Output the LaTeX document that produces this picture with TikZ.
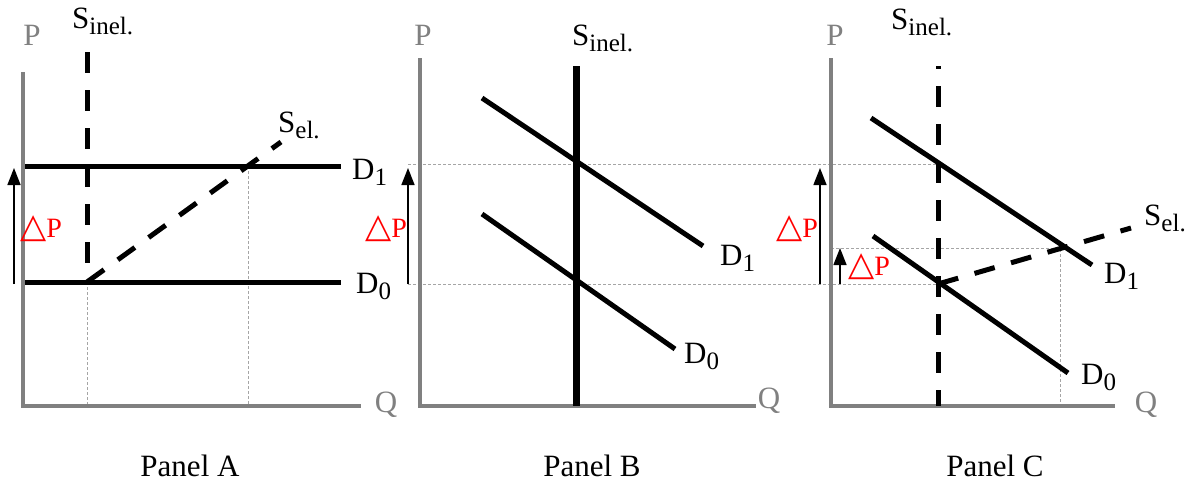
\documentclass[tikz,border=0pt]{standalone}
\usepackage{fontspec}
\setmainfont{Liberation Serif}
\newfontfamily\shapefont{DejaVu Sans}
\usetikzlibrary{arrows.meta}
\definecolor{axisgray}{RGB}{128,128,128}
\definecolor{guidegray}{RGB}{165,165,165}
\newcommand{\lowsub}[1]{\raisebox{-6pt}{\fontsize{25}{25}\selectfont #1}}
\newcommand{\dP}{{\shapefont\fontsize{34}{34}\selectfont △}P}

\begin{document}
\begin{tikzpicture}[x=1pt,y=-1pt,
    font=\fontsize{31}{34}\selectfont,
    axis/.style={draw=axisgray,line width=4pt},
    axislabel/.style={text=axisgray,inner sep=0pt},
    curve/.style={line width=5pt},
    dashcurve/.style={line width=5pt,dash pattern=on 21pt off 17pt},
    guide/.style={draw=guidegray,line width=0.6pt,dash pattern=on 3pt off 2pt},
    shiftarrow/.style={line width=1.5pt,-{Triangle[length=17pt,width=13pt]}},
    change/.style={text=red,font=\fontsize{28}{30}\selectfont,inner sep=0pt},
    tag/.style={anchor=base west,inner sep=0pt}]
    \useasboundingbox (0,0) rectangle (1185,482);

    % Panel A: horizontal demand, two supply curves
    \coordinate (a-top) at (23,72);
    \coordinate (a-o) at (23,406);
    \coordinate (a-end) at (361,406);
    \coordinate (a-d1l) at (25,166);
    \coordinate (a-d1r) at (341,166);
    \coordinate (a-d0l) at (25,282);
    \coordinate (a-d0r) at (341,282);
    \coordinate (a-stop) at (87,52);
    \coordinate (a-eq0) at (87,282);
    \coordinate (a-eq1) at (248,166);
    \coordinate (a-eltop) at (281,142);
    \coordinate (a-q0) at (87,406);
    \coordinate (a-q1) at (248,406);
    \coordinate (a-arl) at (14,284);
    \coordinate (a-arh) at (14,168);
    \draw[guide] (a-eq0) -- (a-q0);
    \draw[guide] (a-eq1) -- (a-q1);
    \draw[axis] (a-top) -- (a-o) -- (a-end);
    \draw[curve] (a-d1l) -- (a-d1r);
    \draw[curve] (a-d0l) -- (a-d0r);
    \draw[dashcurve] (a-stop) -- (a-eq0);
    \draw[dashcurve] (a-eq0) -- (a-eltop);
    \draw[shiftarrow] (a-arl) -- (a-arh);
    \node[axislabel] (a-p) at (32,35) {P};
    \node[axislabel] (a-q) at (386,405) {Q};
    \node[tag] (a-sinel) at (72,28) {S\lowsub{inel.}};
    \node[tag] (a-sel) at (278,132) {S\lowsub{el.}};
    \node[tag] (a-d1) at (352,179) {D\lowsub{1}};
    \node[tag] (a-d0) at (356,293) {D\lowsub{0}};
    \node[change] (a-dp) at (41,229) {\dP};
    \node[anchor=base] (a-name) at (190,476) {Panel A};

    % Panel B: vertical supply, demand shifts
    \coordinate (b-top) at (420,58);
    \coordinate (b-o) at (420,406);
    \coordinate (b-end) at (756,406);
    \coordinate (b-stop) at (576,66);
    \coordinate (b-sbot) at (576,406);
    \coordinate (b-d1l) at (482,98);
    \coordinate (b-d1r) at (703,246);
    \coordinate (b-d0l) at (482,214);
    \coordinate (b-d0r) at (675,349);
    \coordinate (b-hi) at (408,164);
    \coordinate (b-lo) at (408,284);
    \coordinate (c-hi) at (938,164);
    \coordinate (c-lo) at (938,284);
    \coordinate (b-arh) at (408,168);
    \draw[guide] (b-hi) -- (c-hi);
    \draw[guide] (b-lo) -- (c-lo);
    \draw[axis] (b-top) -- (b-o) -- (b-end);
    \draw[line width=7pt] (b-stop) -- (b-sbot);
    \draw[curve] (b-d1l) -- (b-d1r);
    \draw[curve] (b-d0l) -- (b-d0r);
    \draw[shiftarrow] (b-lo) -- (b-arh);
    \node[axislabel] (b-p) at (423,35) {P};
    \node[axislabel] (b-q) at (769,401) {Q};
    \node[tag] (b-sinel) at (572,45) {S\lowsub{inel.}};
    \node[tag] (b-d1) at (720,265) {D\lowsub{1}};
    \node[tag] (b-d0) at (684,363) {D\lowsub{0}};
    \node[change] (b-dp) at (386,229) {\dP};
    \node[anchor=base] (b-name) at (592,476) {Panel B};

    % Panel C: both supply curves, demand shifts
    \coordinate (c-top) at (831,58);
    \coordinate (c-o) at (831,406);
    \coordinate (c-end) at (1115,406);
    \coordinate (c-stop) at (938,66);
    \coordinate (c-sbot) at (938,406);
    \coordinate (c-d1l) at (871,118);
    \coordinate (c-d1r) at (1092,265);
    \coordinate (c-d0l) at (873,236);
    \coordinate (c-d0r) at (1068,373);
    \coordinate (c-eltop) at (1131,228);
    \coordinate (c-mid) at (831,248);
    \coordinate (c-eq1) at (1060,248);
    \coordinate (c-q1) at (1060,406);
    \coordinate (c-arl) at (820,284);
    \coordinate (c-arh) at (820,168);
    \coordinate (c-sml) at (840,284);
    \coordinate (c-smh) at (840,248);
    \draw[guide] (c-mid) -- (c-eq1) -- (c-q1);
    \draw[axis] (c-top) -- (c-o) -- (c-end);
    \draw[dashcurve,dash phase=18pt] (c-stop) -- (c-sbot);
    \draw[curve] (c-d1l) -- (c-d1r);
    \draw[curve] (c-d0l) -- (c-d0r);
    \draw[dashcurve] (c-lo) -- (c-eltop);
    \draw[shiftarrow] (c-arl) -- (c-arh);
    \draw[shiftarrow] (c-sml) -- (c-smh);
    \node[axislabel] (c-p) at (835,35) {P};
    \node[axislabel] (c-q) at (1146,405) {Q};
    \node[tag] (c-sinel) at (891,29) {S\lowsub{inel.}};
    \node[tag] (c-sel) at (1144,225) {S\lowsub{el.}};
    \node[tag] (c-d1) at (1104,283) {D\lowsub{1}};
    \node[tag] (c-d0) at (1081,384) {D\lowsub{0}};
    \node[change] (c-dp) at (797,229) {\dP};
    \node[change] (c-dpsmall) at (869,267) {\dP};
    \node[anchor=base] (c-name) at (995,476) {Panel C};
\end{tikzpicture}
\end{document}
